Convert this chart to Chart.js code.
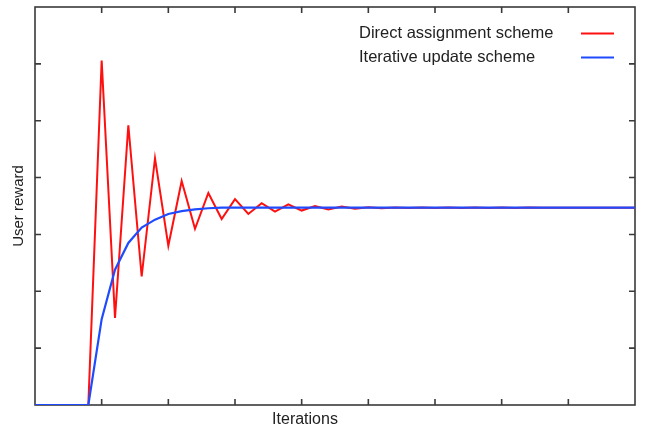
<!DOCTYPE html>
<html>
<head>
<meta charset="utf-8">
<script src="https://cdn.jsdelivr.net/npm/chart.js@4"></script>
<style>
  html, body { margin: 0; padding: 0; background: #fff; }
  #wrap { width: 647px; height: 430px; }
</style>
</head>
<body>
<div id="wrap"><canvas id="chart"></canvas></div>
<script>
// iteration index (5 steps between two x ticks)
const iterations = [0, 1, 2, 3, 4, 5, 6, 7, 8, 9,
    10, 11, 12, 13, 14, 15, 16, 17, 18, 19,
    20, 21, 22, 23, 24, 25, 26, 27, 28, 29,
    30, 31, 32, 33, 34, 35, 36, 37, 38, 39,
    40, 41, 42, 43, 44, 45];

const directAssignment = [0, 0, 0, 0, 0, 6.06, 1.53, 4.92, 2.26, 4.34,
    2.80, 3.94, 3.10, 3.73, 3.27, 3.62, 3.36, 3.55, 3.40, 3.53,
    3.42, 3.50, 3.44, 3.49, 3.45, 3.48, 3.46, 3.475, 3.465, 3.475,
    3.465, 3.475, 3.465, 3.475, 3.465, 3.475, 3.465, 3.475, 3.47, 3.47,
    3.47, 3.47, 3.47, 3.47, 3.47, 3.47];

const iterativeUpdate = [0, 0, 0, 0, 0, 1.51, 2.38, 2.85, 3.12, 3.26,
    3.36, 3.41, 3.44, 3.46, 3.47, 3.47, 3.47, 3.47, 3.47, 3.47,
    3.47, 3.47, 3.47, 3.47, 3.47, 3.47, 3.47, 3.47, 3.47, 3.47,
    3.47, 3.47, 3.47, 3.47, 3.47, 3.47, 3.47, 3.47, 3.47, 3.47,
    3.47, 3.47, 3.47, 3.47, 3.47, 3.47];

const seriesNames = ['Direct assignment scheme', 'Iterative update scheme'];
const xTitle = 'Iterations';
const yTitle = 'User reward';

const FONT = '"Liberation Sans", Arial, sans-serif';
const AXIS = '#3a3a3a';

// gnuplot style frame with inward ticks, key and axis labels
const gnuplotFrame = {
    id: 'gnuplotFrame',
    beforeDatasetsDraw(chart) {
        const { ctx, chartArea: a, scales } = chart;
        ctx.save();
        ctx.strokeStyle = AXIS;
        ctx.lineWidth = 1.6;
        ctx.strokeRect(a.left, a.top, a.right - a.left, a.bottom - a.top);

        ctx.beginPath();
        scales.x.ticks.forEach(t => {
            const px = scales.x.getPixelForValue(t.value);
            if (px <= a.left + 1 || px >= a.right - 1) return;
            ctx.moveTo(px, a.bottom); ctx.lineTo(px, a.bottom - 6);
            ctx.moveTo(px, a.top); ctx.lineTo(px, a.top + 6);
        });
        scales.y.ticks.forEach(t => {
            const py = scales.y.getPixelForValue(t.value);
            if (py <= a.top + 1 || py >= a.bottom - 1) return;
            ctx.moveTo(a.left, py); ctx.lineTo(a.left + 6, py);
            ctx.moveTo(a.right, py); ctx.lineTo(a.right - 6, py);
        });
        ctx.stroke();
        ctx.restore();
    },
    afterDraw(chart) {
        const { ctx, chartArea: a } = chart;
        ctx.save();
        ctx.fillStyle = '#222';
        ctx.textBaseline = 'middle';

        // axis titles
        ctx.font = '16px ' + FONT;
        ctx.textAlign = 'center';
        ctx.fillText(xTitle, 305, 420);
        ctx.save();
        ctx.translate(19, (a.top + a.bottom) / 2);
        ctx.rotate(-Math.PI / 2);
        ctx.font = '15px ' + FONT;
        ctx.fillText(yTitle, 0, 0);
        ctx.restore();

        // key
        ctx.font = '16.5px ' + FONT;
        ctx.textAlign = 'left';
        chart.data.datasets.forEach((ds, i) => {
            const y = 33.5 + i * 24;
            ctx.fillStyle = '#222';
            ctx.fillText(ds.label, 359, y);
            ctx.strokeStyle = ds.borderColor;
            ctx.lineWidth = 2;
            ctx.beginPath();
            ctx.moveTo(581, y);
            ctx.lineTo(614, y);
            ctx.stroke();
        });
        ctx.restore();
    }
};

new Chart(document.getElementById('chart'), {
    type: 'line',
    data: {
        datasets: [
            {
                label: seriesNames[0],
                data: iterations.map((it, i) => ({ x: it, y: directAssignment[i] })),
                borderColor: '#ff1010',
                borderWidth: 2,
                pointRadius: 0,
                tension: 0,
                order: 1,
            },
            {
                label: seriesNames[1],
                data: iterations.map((it, i) => ({ x: it, y: iterativeUpdate[i] })),
                borderColor: '#1f4bff',
                borderWidth: 2.2,
                pointRadius: 0,
                tension: 0,
                order: 0,
            }
        ]
    },
    options: {
        responsive: true,
        maintainAspectRatio: false,
        animation: false,
        devicePixelRatio: 1,
        layout: { padding: { left: 35, right: 12, top: 7, bottom: 25 } },
        scales: {
            x: {
                type: 'linear',
                display: false,
                min: 0,
                max: 45,
                ticks: { stepSize: 5 }
            },
            y: {
                display: false,
                min: 0,
                max: 7,
                ticks: { stepSize: 1 }
            }
        },
        plugins: {
            legend: { display: false },
            tooltip: { enabled: false }
        }
    },
    plugins: [gnuplotFrame]
});
</script>
</body>
</html>
